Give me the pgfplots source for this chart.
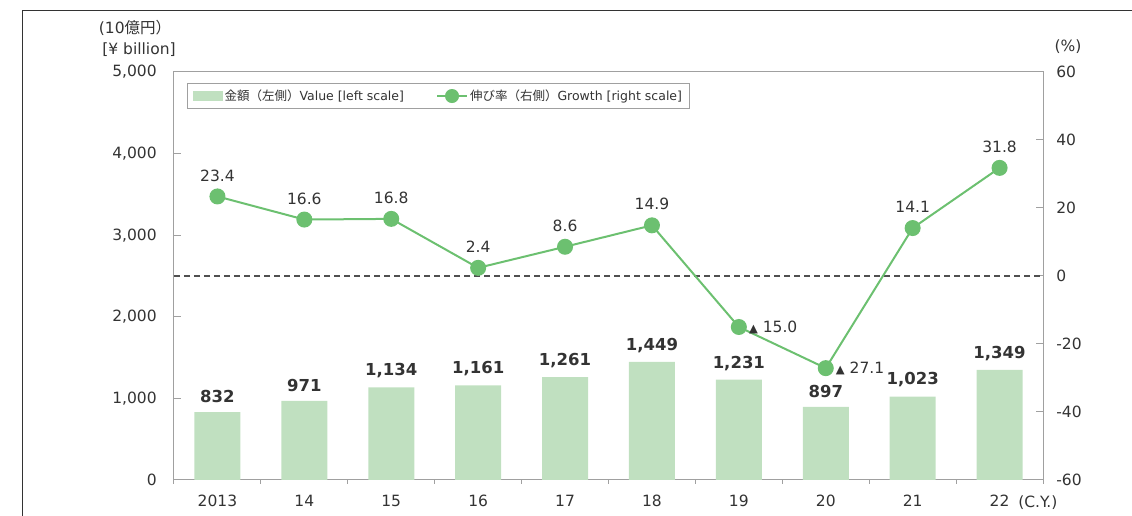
\documentclass[border=0pt]{standalone}
\usepackage{pgfplots}
\pgfplotsset{compat=1.18}
\usepackage{fontspec}
\setmainfont{DejaVu Sans}
\newfontfamily\cjk{Noto Sans CJK JP}
\definecolor{barc}{RGB}{192,224,192}
\definecolor{linec}{RGB}{108,192,112}
\definecolor{txt}{RGB}{51,51,51}
\definecolor{axc}{RGB}{160,160,160}
\definecolor{dashc}{RGB}{80,80,80}
\newcommand{\tri}{{\fontsize{11.5}{11.5}\selectfont ▲}}
\begin{document}
\fontsize{15.5}{18}\selectfont
\begin{tikzpicture}
\path[use as bounding box] (-174pt,-36pt) rectangle (958pt,480pt);
\draw[black!80, line width=0.8pt] (-152pt,-36pt) -- (-152pt,470pt) -- (958pt,470pt);
\begin{axis}[
  scale only axis, width=869pt, height=408pt, at={(0pt,0pt)}, anchor=south west,
  xmin=-0.5, xmax=9.5, ymin=0, ymax=5000,
  xtick={0,...,9}, xticklabels={2013,14,15,16,17,18,19,20,21,22},
  minor xtick={-0.5,0.5,...,9.5},
  ytick={0,1000,...,5000},
  ytick pos=left, xtick pos=bottom,
  tick align=inside,
  major tick length=7pt, minor tick length=4pt,
  major x tick style={draw=none},
  minor x tick style={yshift=-4pt},
  axis line style={axc, line width=1pt}, tick style={axc, line width=1pt},
  ticklabel style={text=txt, font=\fontsize{15.5}{18}\selectfont},
  /pgf/number format/.cd, 1000 sep={,}, assume math mode=true, /pgfplots/.cd,
  yticklabel style={xshift=-12pt},
  xticklabel style={yshift=-10pt},
  nodes near coords style={text=txt, font=\bfseries\fontsize{16.5}{18}\selectfont, inner sep=0pt, anchor=south, yshift=9pt},
  clip=false,
]
\addplot[ybar, bar width=46pt, fill=barc, draw=none, nodes near coords] coordinates {
 (0,832) (1,971) (2,1134) (3,1161) (4,1261) (5,1449) (6,1231) (7,897) (8,1023) (9,1349)};
\node[text=txt, anchor=center] at (axis cs:9.44,0) [yshift=-23pt] {(C.Y.)};
\end{axis}
\begin{axis}[
  scale only axis, width=869pt, height=408pt, at={(0pt,0pt)}, anchor=south west,
  xmin=-0.5, xmax=9.5, ymin=-60, ymax=60,
  ytick={-60,-40,...,60},
  axis x line=none, axis y line*=right,
  tick align=inside, major tick length=7pt,
  axis line style={axc, line width=1pt}, tick style={axc, line width=1pt},
  ticklabel style={text=txt, font=\fontsize{15.5}{18}\selectfont},
  /pgf/number format/assume math mode=true,
  yticklabel style={xshift=8pt},
  clip=false,
  legend style={at={(0.015,0.973)}, anchor=north west, draw=axc, line width=1pt,
     font=\fontsize{12.5}{15}\selectfont, text=txt, inner xsep=5pt, inner ysep=4pt,
     /tikz/every even column/.append style={column sep=30pt}},
  legend columns=2,
  legend cell align=left,
]
\addlegendimage{legend image code/.code={\fill[barc] (0pt,-4.5pt) rectangle (29pt,4.5pt);}}
\addlegendimage{legend image code/.code={\draw[linec, line width=2pt] (0pt,0pt) -- (30pt,0pt); \fill[linec] (15pt,0pt) circle (6.5pt);}}
\addplot[forget plot, dashc, line width=1.3pt, dash pattern=on 6pt off 4pt] coordinates {(-0.5,0) (9.5,0)};
\addplot[forget plot, linec, line width=2pt, mark=*, mark size=7pt, mark options={fill=linec, draw=linec}] coordinates {
 (0,23.4) (1,16.6) (2,16.8) (3,2.4) (4,8.6) (5,14.9) (6,-15.0) (7,-27.1) (8,14.1) (9,31.8)};
\addplot[forget plot, draw=none, mark=none, point meta=explicit symbolic, nodes near coords,
  nodes near coords style={text=txt, inner sep=0pt, anchor=south, yshift=15pt, font=\fontsize{15.5}{18}\selectfont}] coordinates {
 (0,23.4)[23.4] (1,16.6)[16.6] (2,16.8)[16.8] (3,2.4)[2.4] (4,8.6)[8.6] (5,14.9)[14.9] (8,14.1)[14.1] (9,31.8)[31.8]};
\addplot[forget plot, draw=none, mark=none, point meta=explicit symbolic, nodes near coords={\tri\ \pgfplotspointmeta},
  nodes near coords style={text=txt, inner sep=0pt, anchor=west, xshift=10pt, font=\fontsize{15.5}{18}\selectfont}] coordinates {
 (6,-15.0)[15.0] (7,-27.1)[27.1]};
\legend{{\cjk 金額（左側）}Value [left scale], {\cjk 伸び率（右側）}Growth [right scale]}
\node[text=txt] at (rel axis cs:0,1) [xshift=-39pt, yshift=44pt] {(10{\cjk 億円）}};
\node[text=txt] at (rel axis cs:0,1) [xshift=-35pt, yshift=22pt] {[¥ billion]};
\node[text=txt] at (rel axis cs:1,1) [xshift=25pt, yshift=25pt] {(\%)};
\end{axis}
\end{tikzpicture}
\end{document}
